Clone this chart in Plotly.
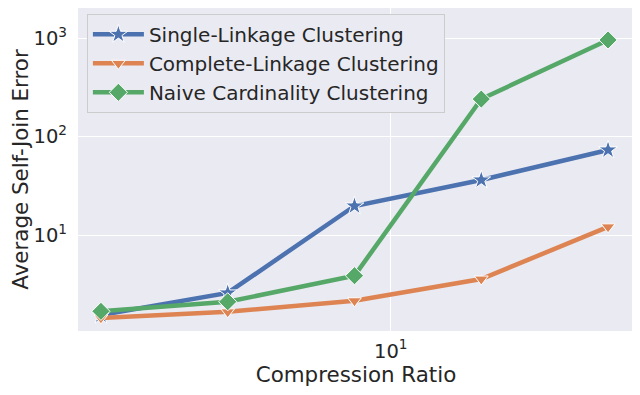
import plotly.graph_objects as go

# compression ratios (x) and average self-join error per method
ratios = [2.05, 4.1, 8.2, 16.4, 32.8]
single_linkage = [1.54, 2.58, 19.7, 36.2, 73]
complete_linkage = [1.44, 1.66, 2.15, 3.57, 12.1]
naive_cardinality = [1.68, 2.10, 3.86, 240, 955]

names = ["Single-Linkage Clustering", "Complete-Linkage Clustering", "Naive Cardinality Clustering"]
series = [single_linkage, complete_linkage, naive_cardinality]
colors = ["#4C72B0", "#DD8452", "#55A868"]
symbols = ["star", "triangle-down", "diamond"]
sizes = [14, 12, 14]

fig = go.Figure()
for name, vals, col, sym, sz in zip(names, series, colors, symbols, sizes):
    fig.add_trace(go.Scatter(
        x=ratios, y=vals, name=name, mode="lines+markers",
        line=dict(color=col, width=4.5),
        marker=dict(symbol=sym, size=sz, color=col, line=dict(color="white", width=1)),
    ))

# page body has an 8px margin, so the figure is 8px smaller than the window
fig.update_layout(
    width=632, height=387,
    margin=dict(l=70, r=6, t=0, b=64),
    paper_bgcolor="white", plot_bgcolor="#EAEAF2",
    font=dict(family="DejaVu Sans", size=19.5, color="#262626"),
    legend=dict(
        x=0.016, y=0.982, xanchor="left", yanchor="top",
        bgcolor="#EAEAF2", bordercolor="#CCCCCC", borderwidth=1,
        font=dict(size=20, color="#262626"),
        itemwidth=51,
    ),
    showlegend=True,
)
fig.update_xaxes(
    type="log", range=[0.2573, 1.5775],
    tickvals=[10], ticktext=["10<sup>1</sup>"],
    showgrid=True, gridcolor="white", gridwidth=1, zeroline=False,
    ticks="", showline=False, ticklabelstandoff=6,
    title=dict(text="Compression Ratio", font=dict(size=21.4), standoff=2),
    tickfont=dict(size=19.5),
)
fig.update_yaxes(
    type="log", range=[0.0254, 3.3046],
    tickvals=[10, 100, 1000], ticktext=["10<sup>1</sup>", "10<sup>2</sup>", "10<sup>3</sup>"],
    showgrid=True, gridcolor="white", gridwidth=1, zeroline=False,
    ticks="", showline=False, ticklabelstandoff=10,
    title=dict(text="Average Self-Join Error", font=dict(size=21.4), standoff=0),
    tickfont=dict(size=19.5),
)

fig.write_html("out.html")
